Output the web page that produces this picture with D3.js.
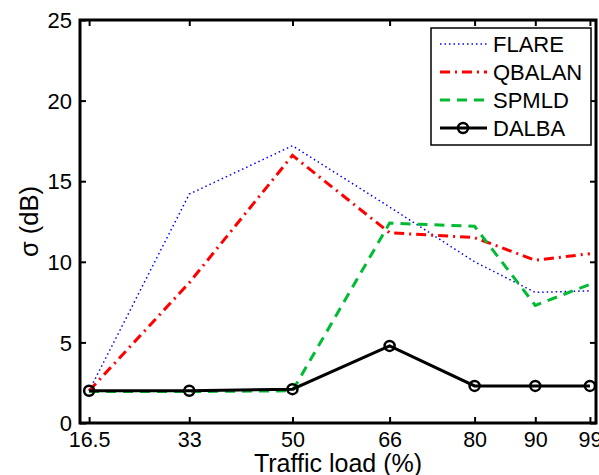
<!DOCTYPE html>
<html>
<head>
<meta charset="utf-8">
<script src="https://cdn.jsdelivr.net/npm/d3@7"></script>
<style>
    body { margin: 0; background: #fff; }
    #chart { width: 599px; height: 475px; }
    text { font-family: "Liberation Sans", Arial, sans-serif; fill: #000; }
</style>
</head>
<body>
<div id="chart"></div>
<script>
// traffic load values (x) and sigma (dB) per scheme
const loads = [16.5, 33, 50, 66, 80, 90, 99];
const flare  = [2.0, 14.2, 17.2, 13.4, 10.0, 8.1, 8.2];
const qbalan = [2.0, 8.7, 16.6, 11.8, 11.5, 10.1, 10.5];
const spmld  = [1.95, 1.95, 2.0, 12.4, 12.2, 7.3, 8.6];
const dalba  = [2.0, 2.0, 2.1, 4.78, 2.3, 2.3, 2.3];
const yTicks = [0, 5, 10, 15, 20, 25];

const seriesNames = ["FLARE", "QBALAN", "SPMLD", "DALBA"];
const seriesValues = [flare, qbalan, spmld, dalba];

class LineChart
{
    constructor(parentElement) {
        this.parentElement = parentElement;
        this.styles = {
            "FLARE":  {color: "#0000ff", width: 1.5, dash: "1.5,3", marker: false},
            "QBALAN": {color: "#ff0000", width: 3, dash: "10,5,2,5", marker: false},
            "SPMLD":  {color: "#00bb33", width: 3, dash: "10,7", marker: false},
            "DALBA":  {color: "#000000", width: 3, dash: null, marker: true}
        };
        this.initVis();
    }

    initVis() {
        let vis = this;

        vis.margin = {top: 20, right: 3, bottom: 52, left: 80};
        vis.width = 599 - vis.margin.left - vis.margin.right;
        vis.height = 475 - vis.margin.top - vis.margin.bottom;

        vis.svg = d3.select("#" + vis.parentElement).append("svg")
            .attr("width", 599)
            .attr("height", 475)
            .append("g")
            .attr("transform", `translate(${vis.margin.left}, ${vis.margin.top})`);

        vis.x = d3.scaleLinear().domain([15, 100]).range([0, vis.width]);
        vis.y = d3.scaleLinear().domain([0, 25]).range([vis.height, 0]);

        vis.wrangleData();
    }

    wrangleData() {
        let vis = this;
        vis.displayData = seriesNames.map((name, i) => ({
            name: name,
            values: loads.map((l, j) => ({x: l, y: seriesValues[i][j]}))
        }));
        vis.updateVis();
    }

    updateVis() {
        let vis = this;

        // axes, matlab style: ticks inside on all four sides
        let xAxis = d3.axisBottom(vis.x).tickValues(loads).tickSizeInner(-6).tickSizeOuter(0)
            .tickPadding(9).tickFormat(d => d);
        let yAxis = d3.axisLeft(vis.y).tickValues(yTicks).tickSizeInner(-6).tickSizeOuter(0)
            .tickPadding(8);

        let gx = vis.svg.append("g").attr("transform", `translate(0, ${vis.height})`).call(xAxis);
        let gy = vis.svg.append("g").call(yAxis);
        vis.svg.append("g").call(d3.axisTop(vis.x).tickValues(loads).tickSizeInner(-6).tickSizeOuter(0).tickFormat(""));
        vis.svg.append("g").attr("transform", `translate(${vis.width}, 0)`)
            .call(d3.axisRight(vis.y).tickValues(yTicks).tickSizeInner(-6).tickSizeOuter(0).tickFormat(""));

        vis.svg.selectAll(".domain").remove();
        vis.svg.selectAll(".tick line").attr("stroke", "#000").attr("stroke-width", 2);
        gx.selectAll("text").style("font-size", "21.5px");
        gy.selectAll("text").style("font-size", "22px").attr("dy", "0.35em");

        vis.svg.append("clipPath").attr("id", "plot-clip")
            .append("rect").attr("width", vis.width).attr("height", vis.height);

        let line = d3.line().x(d => vis.x(d.x)).y(d => vis.y(d.y));

        let series = vis.svg.append("g").attr("clip-path", "url(#plot-clip)")
            .selectAll(".series")
            .data(vis.displayData)
            .enter().append("g")
            .attr("class", "series");

        series.append("path")
            .attr("d", d => line(d.values))
            .attr("fill", "none")
            .attr("stroke", d => vis.styles[d.name].color)
            .attr("stroke-width", d => vis.styles[d.name].width)
            .attr("stroke-dasharray", d => vis.styles[d.name].dash);

        series.filter(d => vis.styles[d.name].marker)
            .selectAll("circle")
            .data(d => d.values)
            .enter().append("circle")
            .attr("cx", d => vis.x(d.x))
            .attr("cy", d => vis.y(d.y))
            .attr("r", 5)
            .attr("fill", "none")
            .attr("stroke", "#000")
            .attr("stroke-width", 2.5);

        // frame
        vis.svg.append("rect")
            .attr("width", vis.width).attr("height", vis.height)
            .attr("fill", "none").attr("stroke", "#000").attr("stroke-width", 3);

        // axis labels
        vis.svg.append("text")
            .attr("x", vis.x(57.5)).attr("y", vis.height + 49)
            .attr("text-anchor", "middle")
            .style("font-size", "25px")
            .text("Traffic load (%)");

        vis.svg.append("text")
            .attr("transform", `translate(-42, ${vis.height / 2}) rotate(-90)`)
            .attr("text-anchor", "middle")
            .style("font-size", "25.5px")
            .text("σ (dB)");

        vis.addLegend();
    }

    addLegend() {
        let vis = this;
        let lg = vis.svg.append("g").attr("transform", `translate(${431 - vis.margin.left}, ${28 - vis.margin.top})`);

        lg.append("rect")
            .attr("width", 160).attr("height", 117)
            .attr("fill", "#fff").attr("stroke", "#000").attr("stroke-width", 1.5);

        let rows = lg.selectAll(".legend-row")
            .data(seriesNames)
            .enter().append("g")
            .attr("transform", (d, i) => `translate(0, ${16 + i * 28})`);

        rows.append("line")
            .attr("x1", 9).attr("x2", 56).attr("y1", 0).attr("y2", 0)
            .attr("stroke", d => vis.styles[d].color)
            .attr("stroke-width", d => vis.styles[d].width)
            .attr("stroke-dasharray", d => vis.styles[d].dash);

        rows.filter(d => vis.styles[d].marker).append("circle")
            .attr("cx", 32).attr("cy", 0).attr("r", 5)
            .attr("fill", "none").attr("stroke", "#000").attr("stroke-width", 2.5);

        rows.append("text")
            .attr("x", 62).attr("y", 0).attr("dy", "0.35em")
            .style("font-size", "22px")
            .text(d => d);
    }
}

new LineChart("chart");
</script>
</body>
</html>
